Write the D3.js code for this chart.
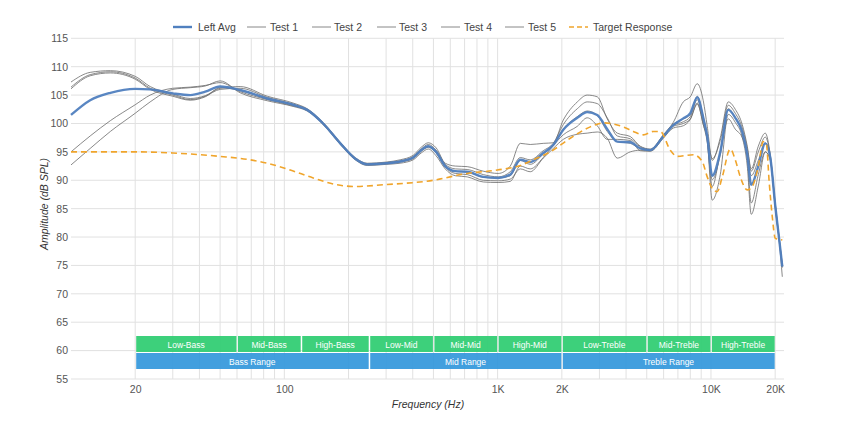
<!DOCTYPE html>
<html>
<head>
<meta charset="utf-8">
<script src="https://cdn.jsdelivr.net/npm/d3@7"></script>
<style>
  html, body { margin: 0; padding: 0; background: #fff; }
  svg { display: block; }
  text { font-family: "Liberation Sans", Arial, sans-serif; }
</style>
</head>
<body>
<svg id="chart" width="855" height="436"></svg>
<script>
// ---------- DATA ----------
const freq = [10,12.3,15.3,20,23.5,30,36.2,42.6,50,62.1,83.2,110,128,152,183,215,245,300,349,402,438,473,515,568,633,720,856,1006,1146,1277,1422,1636,1823,2031,2363,2630,2931,3265,3637,4186,4662,5193,5977,6658,7416,8000,8626,9205,9608,10140,11060,12060,13000,14020,14800,15450,16670,17970,18970,20020,20900,21600];

const leftAvg = [101.5,104.1,105.4,106.1,106.0,105.3,105.0,105.6,106.5,105.9,104.4,103.3,102.4,100.0,96.5,93.8,92.8,93.0,93.3,94.0,95.3,96.0,95.0,92.5,91.6,91.5,90.6,90.4,91.0,93.6,93.2,94.8,96.2,98.9,101.0,102.0,101.5,99.0,96.8,96.7,95.6,95.3,97.7,99.7,100.9,101.8,104.6,101.0,97.7,90.8,95.0,102.4,101.0,98.5,94.5,89.2,92.5,96.5,94.0,85.5,79.5,74.8];

const test1 = [107.3,109.0,109.3,108.3,106.5,105.2,104.4,104.9,106.2,106.5,104.8,103.6,102.6,100.2,96.7,94.0,93.0,93.2,93.6,94.4,95.8,96.6,95.7,93.0,92.5,92.4,91.6,91.2,92.5,96.5,96.3,96.5,96.6,100.6,103.8,105.0,104.7,100.8,98.3,97.7,96.0,95.5,98.0,100.2,103.8,104.7,107.0,104.0,99.5,93.5,97.5,103.8,102.5,99.8,96.0,92.0,96.0,98.3,94.5,86.0,79.8,75.2];

const test2 = [106.4,108.6,109.1,108.0,106.2,105.0,104.2,104.8,106.0,106.2,104.6,103.4,102.5,100.1,96.6,93.9,92.9,93.1,93.4,94.2,95.5,96.3,95.3,92.8,92.0,91.9,91.0,90.6,91.5,94.0,93.6,95.2,96.5,99.8,102.6,103.8,103.5,101.0,97.8,97.3,95.9,95.4,97.9,99.9,100.8,101.6,104.8,101.2,98.0,93.8,97.0,103.2,101.8,99.2,95.6,91.6,95.0,97.6,94.3,85.7,79.6,75.0];

const test3 = [106.1,108.4,108.9,107.8,106.0,104.8,104.1,104.7,106.3,105.8,104.3,103.2,102.3,100.0,96.5,93.8,92.8,93.0,93.3,94.0,95.3,96.0,95.0,92.6,91.6,91.5,90.5,90.4,90.8,93.5,92.8,94.6,96.2,99.0,101.2,102.2,101.4,98.6,96.8,96.5,95.6,95.3,97.7,99.7,100.3,101.2,104.2,100.2,97.3,90.1,94.5,102.6,101.0,98.5,94.5,90.8,93.5,96.6,94.0,85.5,79.5,74.8];

const test4 = [95.0,97.8,100.5,103.3,105.0,106.2,106.4,106.7,107.2,105.6,104.2,103.1,102.3,99.9,96.4,93.7,92.7,92.9,93.2,93.8,95.1,95.8,94.8,92.3,91.2,91.0,90.0,89.9,90.2,92.0,91.5,93.9,95.6,97.2,98.1,98.3,98.5,97.4,93.9,95.0,95.3,95.2,97.5,99.5,100.0,100.8,103.6,99.8,97.0,86.5,91.0,101.6,100.2,97.6,92.5,84.0,89.0,95.0,93.7,85.3,79.4,74.6];

const test5 = [92.7,95.6,98.6,101.8,103.8,106.0,106.3,106.6,107.5,105.4,104.0,103.0,102.2,99.8,96.3,93.6,92.6,92.8,93.0,93.6,94.8,95.5,94.3,92.0,90.8,90.6,89.7,89.6,89.8,92.5,92.0,94.0,96.1,98.0,99.5,101.0,99.6,97.2,97.2,97.0,95.2,95.1,97.4,99.2,99.6,100.7,103.4,99.8,96.7,88.9,95.0,100.8,99.0,97.5,93.8,86.0,91.0,95.0,93.5,85.0,79.2,73.0];

const targetFreq = [10,15.3,20,30,40.3,50,69.2,83.2,106.6,136.6,177,215,290.8,499,720,996,1277,1468,1764,2190,2718,3127,3882,4322,4816,5366,5786,6446,6950,8260,9102,9608,10252,10706,11298,12320,13004,13726,14800,15616,16664,17588,18168,18766,19384,20020,21600];
const targetResp = [95.0,95.0,95.0,94.8,94.5,94.2,93.6,93.0,91.8,90.4,89.2,88.9,89.2,90.0,91.2,91.8,92.6,93.6,95.0,97.4,99.4,100.1,99.4,98.6,98.0,98.6,98.6,95.3,94.2,94.5,93.3,90.6,88.3,88.0,90.6,95.5,93.6,90.6,88.3,88.9,92.4,96.8,96.5,89.5,83.6,79.8,79.5];

const legendLabels = ["Left Avg","Test 1","Test 2","Test 3","Test 4","Test 5","Target Response"];

const yTickValues = [55,60,65,70,75,80,85,90,95,100,105,110,115];
const xTickValues = [20,100,1000,2000,10000,20000];
const xTickLabels = ["20","100","1K","2K","10K","20K"];
const gridFreqs = [20,30,40,50,60,70,80,90,100,200,300,400,500,600,700,800,900,1000,2000,3000,4000,5000,6000,7000,8000,9000,10000,20000];

const bandNames = ["Low-Bass","Mid-Bass","High-Bass","Low-Mid","Mid-Mid","High-Mid","Low-Treble","Mid-Treble","High-Treble"];
const bandEdges = [20,60,120,250,500,1000,2000,5000,10000,20000];
const rangeNames = ["Bass Range","Mid Range","Treble Range"];
const rangeEdges = [20,250,2000,20000];

// ---------- CHART ----------
(function () {
const svg = d3.select("#chart");
const x = d3.scaleLog().domain([10, 22000]).range([71, 784]);
const y = d3.scaleLinear().domain([55, 115]).range([379, 38.3]);
const pLeft = 71, pRight = 784, pTop = y(115), pBottom = y(55);

const gridColor = "#e1e1e1";
const grid = svg.append("g");
grid.selectAll("line.h").data(yTickValues).join("line")
  .attr("x1", pLeft).attr("x2", pRight)
  .attr("y1", d => y(d)).attr("y2", d => y(d))
  .attr("stroke", gridColor).attr("stroke-width", 1);
grid.selectAll("line.v").data(gridFreqs).join("line")
  .attr("x1", d => x(d)).attr("x2", d => x(d))
  .attr("y1", pTop).attr("y2", pBottom)
  .attr("stroke", gridColor).attr("stroke-width", 1);

// axes (labels only)
const yAxis = svg.append("g").attr("transform", `translate(${pLeft - 3},0)`)
  .call(d3.axisLeft(y).tickValues(yTickValues).tickSize(0).tickPadding(0));
yAxis.select(".domain").remove();
yAxis.selectAll("text").attr("font-size", 10.5).attr("fill", "#555")
  .attr("font-family", "Liberation Sans, Arial, sans-serif");

const xAxis = svg.append("g").attr("transform", `translate(0,${pBottom + 7})`)
  .call(d3.axisBottom(x).tickValues(xTickValues).tickFormat((d, i) => xTickLabels[i]).tickSize(0).tickPadding(0));
xAxis.select(".domain").remove();
xAxis.selectAll("text").attr("font-size", 10.5).attr("fill", "#555")
  .attr("font-family", "Liberation Sans, Arial, sans-serif");

// axis titles
svg.append("text").attr("x", 428).attr("y", 408).attr("text-anchor", "middle")
  .attr("font-size", 10.5).attr("font-style", "italic").attr("fill", "#333")
  .text("Frequency (Hz)");
svg.append("text").attr("transform", "translate(48,204) rotate(-90)").attr("text-anchor", "middle")
  .attr("font-size", 10.5).attr("font-style", "italic").attr("fill", "#333")
  .text("Amplitude (dB SPL)");

// bands
const bandG = svg.append("g");
const bandData = bandNames.map((n, i) => ({ name: n, f0: bandEdges[i], f1: bandEdges[i + 1] }));
const rangeData = rangeNames.map((n, i) => ({ name: n, f0: rangeEdges[i], f1: rangeEdges[i + 1] }));
bandG.selectAll("rect.b").data(bandData).join("rect")
  .attr("x", d => x(d.f0) + 1).attr("width", d => x(d.f1) - x(d.f0) - 1.5)
  .attr("y", 336).attr("height", 16).attr("fill", "#2ecc71").attr("opacity", 0.93);
bandG.selectAll("text.b").data(bandData).join("text")
  .attr("x", d => (x(d.f0) + x(d.f1)) / 2).attr("y", 347.5).attr("text-anchor", "middle")
  .attr("font-size", 8.5).attr("fill", "#fff").attr("font-family", "Open Sans, sans-serif")
  .text(d => d.name);
bandG.selectAll("rect.r").data(rangeData).join("rect")
  .attr("x", d => x(d.f0) + 1).attr("width", d => x(d.f1) - x(d.f0) - 1.5)
  .attr("y", 353).attr("height", 16).attr("fill", "#3498db").attr("opacity", 0.93);
bandG.selectAll("text.r").data(rangeData).join("text")
  .attr("x", d => (x(d.f0) + x(d.f1)) / 2).attr("y", 364.5).attr("text-anchor", "middle")
  .attr("font-size", 8.5).attr("fill", "#fff").attr("font-family", "Open Sans, sans-serif")
  .text(d => d.name);

// lines
const line = d3.line().x(d => x(d[0])).y(d => y(d[1])).curve(d3.curveMonotoneX);
const zip = (fs, vs) => fs.map((f, i) => [f, vs[i]]);

const tests = [test1, test2, test3, test4, test5];
const lines = svg.append("g");
tests.forEach(t => {
  lines.append("path").attr("d", line(zip(freq, t)))
    .attr("fill", "none").attr("stroke", "#6d6d6d").attr("stroke-width", 0.9).attr("opacity", 0.9);
});
lines.append("path").attr("d", line(zip(freq, leftAvg)))
  .attr("fill", "none").attr("stroke", "#5080bf").attr("stroke-width", 2.4).attr("opacity", 0.95);
lines.append("path").attr("d", line(zip(targetFreq, targetResp)))
  .attr("fill", "none").attr("stroke", "#f0a52c").attr("stroke-width", 1.6)
  .attr("stroke-dasharray", "6,4");

// legend
const legItems = [
  { lx: 173, tx: 198, color: "#5080bf", w: 2.4, dash: null },
  { lx: 247, tx: 270, color: "#888", w: 1, dash: null },
  { lx: 312, tx: 334, color: "#888", w: 1, dash: null },
  { lx: 377, tx: 399, color: "#888", w: 1, dash: null },
  { lx: 441, tx: 464, color: "#888", w: 1, dash: null },
  { lx: 505, tx: 528, color: "#888", w: 1, dash: null },
  { lx: 569, tx: 593, color: "#f0a52c", w: 1.6, dash: "5,3" }
];
const leg = svg.append("g");
legItems.forEach((it, i) => {
  leg.append("line").attr("x1", it.lx).attr("x2", it.lx + 19).attr("y1", 27).attr("y2", 27)
    .attr("stroke", it.color).attr("stroke-width", it.w).attr("stroke-dasharray", it.dash);
  leg.append("text").attr("x", it.tx).attr("y", 31).attr("font-size", 10.5).attr("fill", "#444")
    .text(legendLabels[i]);
});
})();
</script>
</body>
</html>
